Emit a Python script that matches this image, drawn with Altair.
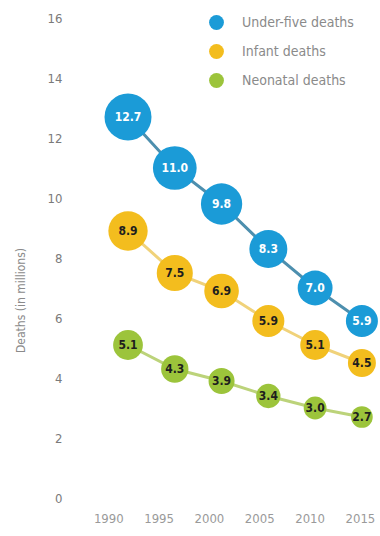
import altair as alt
import pandas as pd

years = [1990, 1995, 2000, 2005, 2010, 2015]
series_names = ["Under-five deaths", "Infant deaths", "Neonatal deaths"]
under_five = [12.7, 11.0, 9.8, 8.3, 7.0, 5.9]
infant = [8.9, 7.5, 6.9, 5.9, 5.1, 4.5]
neonatal = [5.1, 4.3, 3.9, 3.4, 3.0, 2.7]
tick_years = [1990, 1995, 2000, 2005, 2010, 2015]

circle_colors = ["#1b9bd7", "#f3bd1e", "#9cc43b"]
line_colors = ["#4d8fae", "#f0d27a", "#bcd37a"]

rows = []
for name, vals in zip(series_names, [under_five, infant, neonatal]):
    for y, v in zip(years, vals):
        rows.append({"year": y, "value": v, "series": name})
df = pd.DataFrame(rows)
ticks_df = pd.DataFrame({"year": tick_years})

FONT = "Liberation Sans Narrow, DejaVu Sans Condensed, sans-serif"

x_pts = alt.X("year:Q", scale=alt.Scale(domain=[1983.8, 2016.4], nice=False, zero=False), axis=None)
y_enc = alt.Y(
    "value:Q",
    scale=alt.Scale(domain=[0, 16], nice=False),
    axis=alt.Axis(
        values=[0, 2, 4, 6, 8, 10, 12, 14, 16],
        title="Deaths (in millions)",
        titleFont=FONT, titleFontSize=12, titleFontWeight="normal", titleColor="#8a8a8a",
        titleX=-43, titleY=282,
        labelFont=FONT, labelFontSize=13, labelColor="#7a7a7a",
        labelPadding=8, ticks=False, domain=False, grid=False,
    ),
)

axis_layer = alt.Chart(ticks_df).mark_point(opacity=0).encode(
    x=alt.X(
        "year:Q",
        scale=alt.Scale(domain=[1986.2, 2016.5], nice=False, zero=False),
        axis=alt.Axis(
            values=tick_years, format="d", title=None,
            labelFont=FONT, labelFontSize=13, labelColor="#9a9a9a",
            labelPadding=14, ticks=False, domain=False, grid=False,
        ),
    )
)

lines = alt.Chart(df).mark_line(strokeWidth=3).encode(
    x=x_pts,
    y=y_enc,
    color=alt.Color("series:N", scale=alt.Scale(domain=series_names, range=line_colors), legend=None),
)

circles = alt.Chart(df).mark_circle(opacity=1).encode(
    x=x_pts,
    y=y_enc,
    size=alt.Size("value:Q", scale=alt.Scale(domain=[0, 16], range=[0, 2780]), legend=None),
    color=alt.Color(
        "series:N",
        scale=alt.Scale(domain=series_names, range=circle_colors),
        legend=alt.Legend(
            title=None, orient="none", legendX=139, legendY=-3,
            symbolType="circle", symbolSize=220, symbolOpacity=1, symbolStrokeWidth=0,
            labelFont=FONT, labelFontSize=14, labelColor="#8a8a8a",
            labelOffset=18, rowPadding=14,
        ),
    ),
)

labels = alt.Chart(df).mark_text(font=FONT, fontSize=12, fontWeight="bold").encode(
    x=x_pts,
    y=y_enc,
    text=alt.Text("value:Q", format=".1f"),
    color=alt.condition(alt.datum.series == "Under-five deaths", alt.value("#ffffff"), alt.value("#1e1e1e")),
)

data_layers = alt.layer(lines, circles, labels).resolve_scale(color="independent")

chart = alt.layer(axis_layer, data_layers).resolve_scale(x="independent").properties(
    width=305,
    height=480,
    background="white",
    autosize=alt.AutoSizeParams(type="none"),
    padding={"left": 70, "top": 18, "right": 5, "bottom": 38},
).configure_view(stroke=None)

chart.save("out.html", embed_options={"renderer": "svg", "actions": False})
